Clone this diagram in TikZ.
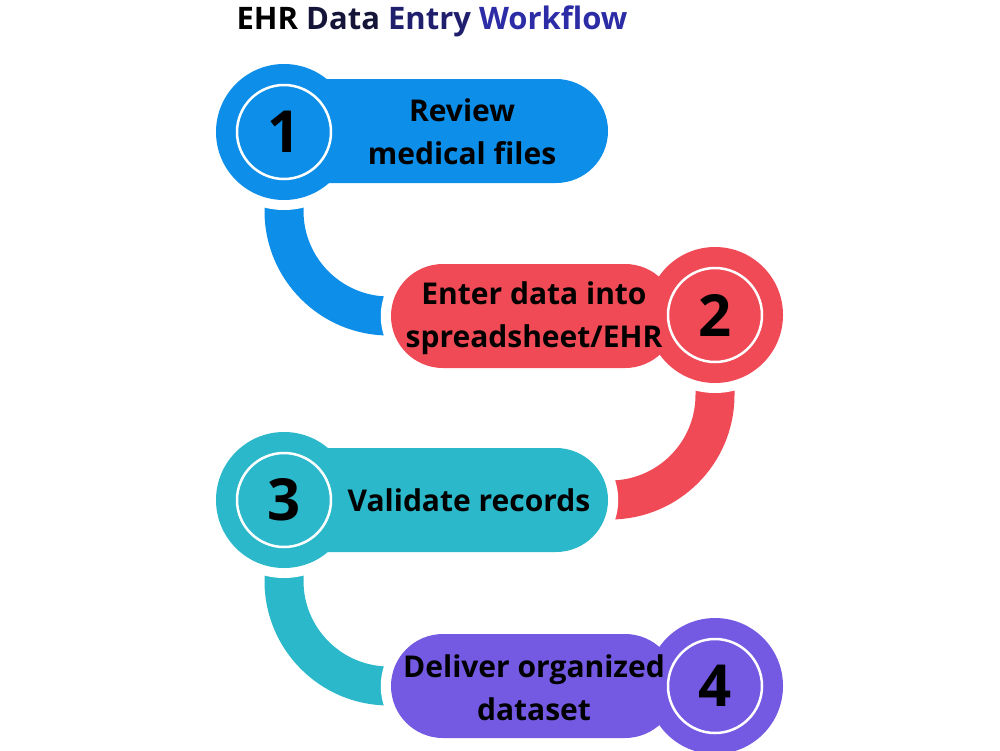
\documentclass[tikz,border=0pt]{standalone}
\usepackage{fontspec}
\setmainfont{Open Sans}
\usetikzlibrary{calc}

\definecolor{stepblue}{HTML}{0D8EE9}
\definecolor{stepred}{HTML}{EF4A55}
\definecolor{stepteal}{HTML}{2AB8CA}
\definecolor{steppurple}{HTML}{745AE2}
\definecolor{titledark}{HTML}{15153A}
\definecolor{titlenavy}{HTML}{1F1F6E}
\definecolor{titleblue}{HTML}{2C2CA6}

\pgfdeclarelayer{bands}
\pgfdeclarelayer{halo}
\pgfsetlayers{bands,halo,main}

\tikzset{
	num/.style={shape=circle,fill=#1,minimum size=136pt,inner sep=0pt,
		font=\fontsize{58}{58}\selectfont\bfseries,
		path picture={\draw[white,line width=2.5pt] (path picture bounding box.center) circle (47pt);}},
	pill/.style={shape=rectangle,fill=#1,rounded corners=52pt,minimum height=104pt,inner sep=0pt},
	steptext/.style={align=center,font=\fontsize{30}{43}\selectfont\bfseries},
	connector/.style={draw=#1,line width=39pt,rounded corners=105pt},
	halofill/.style={fill=white,rounded corners=62pt}
}

\begin{document}
\begin{tikzpicture}[x=1pt,y=-1pt]
	\useasboundingbox (0,0) rectangle (1000,750);
	\node[font=\fontsize{31}{34}\selectfont\bfseries](title) at (432,21) {\textcolor{black}{EHR} \textcolor{titledark}{Data} \textcolor{titlenavy}{Entry} \textcolor{titleblue}{Workflow}};

	\node[pill=stepblue,minimum width=332pt](p1) at (442,131) {};
	\node[pill=stepred,minimum width=286pt](p2) at (534,316) {};
	\node[pill=stepteal,minimum width=332pt](p3) at (442,500) {};
	\node[pill=steppurple,minimum width=286pt](p4) at (534,686) {};

	\node[num=stepblue](n1) at (284,132) {1};
	\node[num=stepred](n2) at (715,315) {2};
	\node[num=stepteal](n3) at (284,500) {3};
	\node[num=steppurple](n4) at (715,686) {4};

	\node[steptext](t1) at (462,132) {Review\\medical files};
	\node[steptext](t2) at (534,318) {Enter data into\\spreadsheet/EHR};
	\node[steptext](t3) at (469,500) {Validate records};
	\node[steptext](t4) at (534,688) {Deliver organized\\dataset};

	\begin{pgfonlayer}{halo}
		\fill[white] (n1) circle (78pt);
		\fill[white] (n2) circle (78pt);
		\fill[white] (n3) circle (78pt);
		\fill[halofill] ($(p2.south west)+(-10pt,-10pt)$) rectangle ($(p2.north east)+(10pt,10pt)$);
		\fill[halofill] ($(p3.south west)+(-10pt,-10pt)$) rectangle ($(p3.north east)+(10pt,10pt)$);
		\fill[halofill] ($(p4.south west)+(-10pt,-10pt)$) rectangle ($(p4.north east)+(10pt,10pt)$);
	\end{pgfonlayer}

	\begin{pgfonlayer}{bands}
		\path[connector=stepblue] (n1.center) |- (p2.center);
		\path[connector=stepred] (n2.center) |- (p3.center);
		\path[connector=stepteal] (n3.center) |- (p4.center);
	\end{pgfonlayer}
\end{tikzpicture}
\end{document}
